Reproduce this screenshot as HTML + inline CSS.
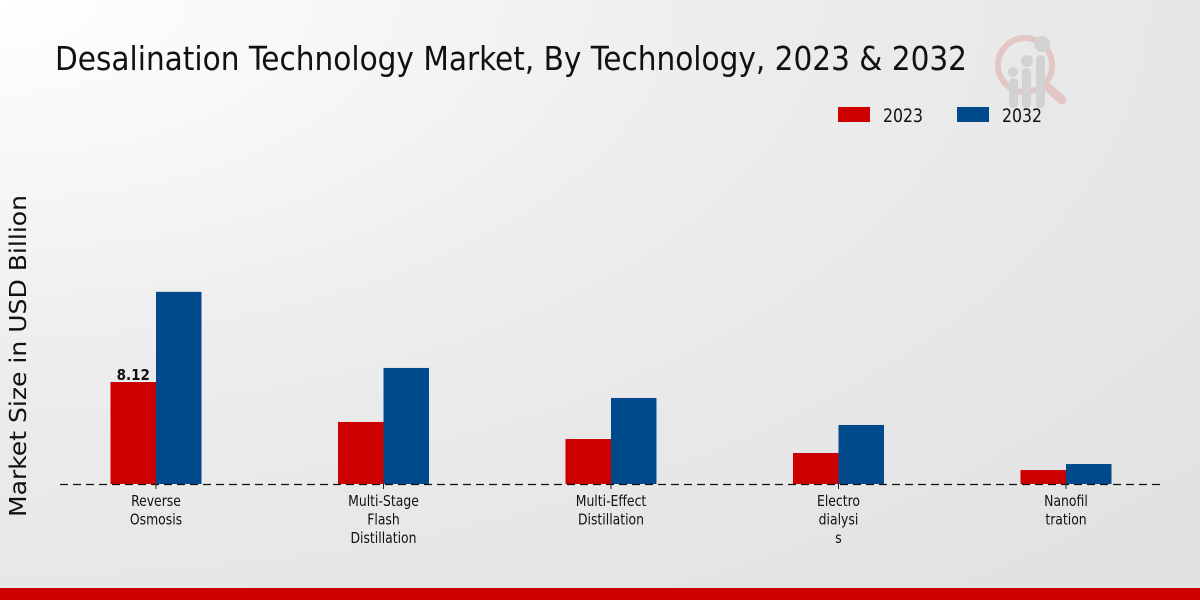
<!DOCTYPE html>
<html><head><meta charset="utf-8"><style>
html,body{margin:0;padding:0;width:1200px;height:600px;overflow:hidden}
svg{display:block}
text{font-family:"DejaVu Sans Condensed","DejaVu Sans","Liberation Sans",sans-serif}
</style></head><body>
<svg id="chart" width="1200" height="600" xmlns="http://www.w3.org/2000/svg">
<defs>
<radialGradient id="bg" cx="0" cy="0" r="1.3">
<stop offset="0" stop-color="#ffffff"/><stop offset="0.5" stop-color="#ececec"/><stop offset="1" stop-color="#e2e2e2"/>
</radialGradient>
</defs>
<rect width="1200" height="600" fill="url(#bg)"/>
<text x="55" y="70" font-size="33" fill="#111" textLength="912" lengthAdjust="spacingAndGlyphs">Desalination Technology Market, By Technology, 2023 &amp; 2032</text>
<g opacity="0.35">
<circle cx="1025" cy="65" r="27" fill="none" stroke="#d88" stroke-width="6"/>
<line x1="1045" y1="85" x2="1062" y2="100" stroke="#d88" stroke-width="9" stroke-linecap="round"/>
<rect x="1009" y="78" width="9" height="30" rx="4" fill="#aaa"/>
<rect x="1022" y="68" width="9" height="40" rx="4" fill="#aaa"/>
<rect x="1036" y="55" width="9" height="53" rx="4" fill="#aaa"/>
<circle cx="1013" cy="72" r="5" fill="#aaa"/><circle cx="1027" cy="61" r="6" fill="#aaa"/><circle cx="1042" cy="44" r="8" fill="#aaa"/>
</g>
<g>
<rect x="838" y="107" width="32" height="15" fill="#cc0000"/>
<text x="883" y="122" font-size="19" fill="#111" textLength="40" lengthAdjust="spacingAndGlyphs">2023</text>
<rect x="957" y="107" width="32" height="15" fill="#004a8c"/>
<text x="1002" y="122" font-size="19" fill="#111" textLength="40" lengthAdjust="spacingAndGlyphs">2032</text>
</g>
<text transform="translate(26,356) rotate(-90)" text-anchor="middle" font-size="23" fill="#111" textLength="322" lengthAdjust="spacingAndGlyphs">Market Size in USD Billion</text>
<g id="bars"></g>
<line x1="60" y1="484.5" x2="1160" y2="484.5" stroke="#111" stroke-width="1.2" stroke-dasharray="8,5"/>
<g id="labels"></g>
<rect x="0" y="588" width="1200" height="12" fill="#cc0000"/>
</svg>
<script>
const categories=[["Reverse","Osmosis"],["Multi-Stage","Flash","Distillation"],["Multi-Effect","Distillation"],["Electro","dialysi","s"],["Nanofil","tration"]];
const values2023=[8.12,4.94,3.58,2.47,1.11];
const values2032=[15.3,9.24,6.85,4.7,1.59];
const printed=["8.12","","","",""];
const NS="http://www.w3.org/2000/svg";
const base=484,scale=12.56,x0=156,step=227.5,bw=45.5;
const y=v=>base-v*scale;
const xc=i=>x0+i*step;
const bars=document.getElementById('bars'),labels=document.getElementById('labels');
function mk(t,a,p){const e=document.createElementNS(NS,t);for(const k in a)e.setAttribute(k,a[k]);p.appendChild(e);return e;}
categories.forEach((c,i)=>{
 const r=mk('rect',{x:xc(i)-bw,y:y(values2023[i]),width:bw,height:values2023[i]*scale,fill:'#cc0000'},bars);
 
 
 const b=mk('rect',{x:xc(i),y:y(values2032[i]),width:bw,height:values2032[i]*scale,fill:'#004a8c'},bars);
 
 
 if(printed[i]){const t=mk('text',{x:xc(i)-bw/2,y:y(values2023[i])-2,'text-anchor':'middle','font-size':'15','font-weight':'bold',fill:'#111'},bars);t.textContent=printed[i];
 
 }
 const tk=mk('line',{x1:xc(i),x2:xc(i),y1:base,y2:base+5,stroke:'#222'},labels);
 
 
 c.forEach((ln,j)=>{const t=mk('text',{x:xc(i),y:506+j*18.5,'text-anchor':'middle','font-size':'15',fill:'#111',transform:'translate('+xc(i)+',0) scale(0.92,1) translate('+(-xc(i))+',0)'},labels);t.textContent=ln;
 
 });
});
</script>
</body></html>
